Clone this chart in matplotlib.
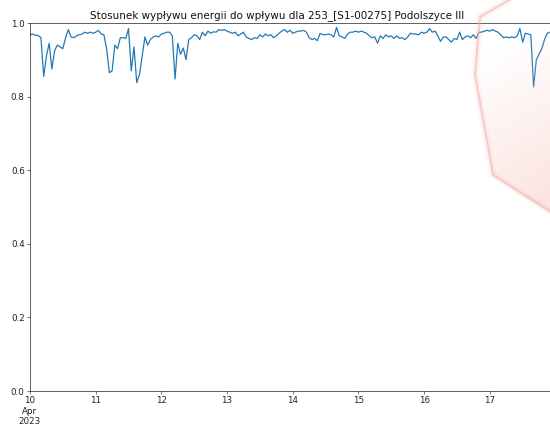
import numpy as np
import pandas as pd
import matplotlib
matplotlib.use("Agg")
import matplotlib.pyplot as plt
import matplotlib.dates as mdates
from matplotlib.patches import Polygon

# hourly ratio of energy outflow to inflow
day10 = [0.968, 0.970, 0.967, 0.966, 0.960, 0.855, 0.910, 0.945, 0.875, 0.925, 0.940, 0.935,
         0.930, 0.960, 0.982, 0.962, 0.960, 0.965, 0.968, 0.970, 0.975, 0.972, 0.975, 0.972]
day11 = [0.975, 0.980, 0.970, 0.968, 0.930, 0.865, 0.870, 0.940, 0.930, 0.960, 0.960, 0.958,
         0.985, 0.870, 0.935, 0.838, 0.860, 0.910, 0.962, 0.940, 0.955, 0.962, 0.965, 0.962]
day12 = [0.970, 0.972, 0.975, 0.975, 0.965, 0.848, 0.945, 0.915, 0.932, 0.900, 0.955, 0.960,
         0.968, 0.965, 0.955, 0.975, 0.965, 0.978, 0.972, 0.976, 0.975, 0.982, 0.980, 0.982]
day13 = [0.978, 0.975, 0.972, 0.975, 0.965, 0.970, 0.975, 0.962, 0.958, 0.955, 0.960, 0.958,
         0.968, 0.962, 0.970, 0.965, 0.968, 0.960, 0.965, 0.972, 0.978, 0.982, 0.975, 0.980]
day14 = [0.972, 0.975, 0.978, 0.978, 0.980, 0.975, 0.960, 0.955, 0.958, 0.952, 0.972, 0.968,
         0.968, 0.970, 0.968, 0.962, 0.988, 0.965, 0.962, 0.958, 0.970, 0.975, 0.975, 0.978]
day15 = [0.975, 0.978, 0.975, 0.972, 0.965, 0.960, 0.962, 0.945, 0.965, 0.958, 0.968, 0.962,
         0.965, 0.958, 0.965, 0.958, 0.960, 0.955, 0.962, 0.972, 0.970, 0.970, 0.968, 0.975]
day16 = [0.972, 0.975, 0.985, 0.975, 0.978, 0.965, 0.950, 0.962, 0.962, 0.955, 0.948, 0.958,
         0.955, 0.975, 0.955, 0.962, 0.965, 0.960, 0.968, 0.958, 0.975, 0.975, 0.978, 0.980]
day17 = [0.978, 0.982, 0.978, 0.975, 0.968, 0.960, 0.962, 0.960, 0.962, 0.960, 0.965, 0.985,
         0.948, 0.972, 0.970, 0.968, 0.826, 0.900, 0.915, 0.930, 0.955, 0.972, 0.975]

ratio = day10 + day11 + day12 + day13 + day14 + day15 + day16 + day17
times = pd.date_range("2023-04-10 00:00", periods=len(ratio), freq="h")

title = "Stosunek wypływu energii do wpływu dla 253_[S1-00275] Podolszyce III"

fig = plt.figure(figsize=(10, 7.764), dpi=55)
ax = fig.add_axes([30 / 550, 36 / 427, 520 / 550, 368 / 427])

ax.plot(times, ratio, color="#1f77b4", linewidth=1.6)
ax.set_xlim(times[0], times[-1])
ax.set_ylim(0, 1.0)
ax.set_yticks([0.0, 0.2, 0.4, 0.6, 0.8, 1.0])
ax.spines["right"].set_visible(False)
ax.tick_params(labelsize=11.5, colors="#222222")

ax.xaxis.set_major_locator(mdates.DayLocator())
def day_fmt(x, pos):
    d = mdates.num2date(x)
    if pos == 0:
        return d.strftime("%-d\n%b\n%Y")
    return d.strftime("%-d")
ax.xaxis.set_major_formatter(plt.FuncFormatter(day_fmt))

ax.set_title(title, x=0.476, fontsize=13.5, pad=6.5, color="#111111")

# translucent pink overlay shape on the right (decoration in the reference)
ov = fig.add_axes([0, 0, 1, 1], zorder=5)
ov.set_xlim(0, 550)
ov.set_ylim(427, 0)
ov.axis("off")
ov.patch.set_alpha(0)
verts = [(560, -30), (480, 17), (475, 75), (493, 175), (560, 218), (620, 100)]
gx = np.linspace(465, 565, 200)
gy = np.linspace(-10, 235, 300)
GX, GY = np.meshgrid(gx, gy)
t = np.clip(((GX - 478) * 0.6 + (GY - 60)) / 190, 0, 1)
rgba = np.zeros(GX.shape + (4,))
rgba[..., 0] = 0.98
rgba[..., 1] = 0.80
rgba[..., 2] = 0.77
rgba[..., 3] = 0.55 * t
im = ov.imshow(rgba, extent=(465, 565, 235, -10), origin="upper", aspect="auto", zorder=1)
clip = Polygon(verts, closed=True, transform=ov.transData, facecolor="none")
im.set_clip_path(clip)
ov.add_patch(Polygon(verts, closed=True, fill=False, edgecolor="#f4b0ac", linewidth=9, alpha=0.12, zorder=2))
ov.add_patch(Polygon(verts, closed=True, fill=False, edgecolor="#f4b0ac", linewidth=3, alpha=0.55, zorder=3))
ov.set_xlim(0, 550)
ov.set_ylim(427, 0)

fig.savefig("out.png", dpi=55)
